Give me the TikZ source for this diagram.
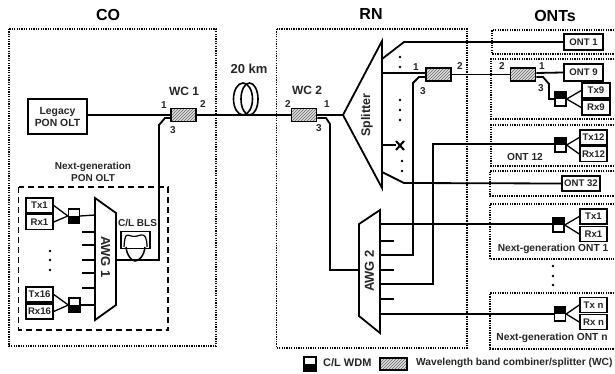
\documentclass[tikz,border=0pt]{standalone}
\usepackage{fontspec}
\setmainfont{Liberation Sans}
\usetikzlibrary{patterns}
\tikzset{
  x=1pt,y=-1pt,
  ln/.style={line width=1.8pt,line join=miter},
  thin line/.style={line width=1.3pt},
  dotbox/.style={line width=1.3pt,dash pattern=on 1.3pt off 1.1pt},
  dashbox/.style={line width=1.7pt,dash pattern=on 6pt off 4pt},
  boxn/.style={draw,line width=1.5pt,fill=white,inner sep=0pt,font=\fontsize{9.6}{11}\selectfont\bfseries,text=black!85},
  wc/.style={draw,line width=1.7pt,minimum width=25pt,minimum height=13pt,inner sep=0pt,preaction={fill=black!12},pattern=north east lines,pattern color=black!60},
  wdmb/.style={draw,line width=1.3pt,fill=white,minimum width=11pt,minimum height=14pt,inner sep=0pt,
    path picture={\fill[black] (path picture bounding box.west) rectangle (path picture bounding box.south east);}},
  wdmt/.style={draw,line width=1.3pt,fill=white,minimum width=11pt,minimum height=14pt,inner sep=0pt,
    path picture={\fill[black] (path picture bounding box.north west) rectangle (path picture bounding box.east);}},
  lab/.style={font=\fontsize{10.2}{12}\selectfont\bfseries,inner sep=0pt,text=black!85,align=center},
  plab/.style={font=\fontsize{10}{10}\selectfont\bfseries,inner sep=0pt,text=black!85},
  title/.style={font=\fontsize{16}{17}\selectfont\bfseries,inner sep=0pt},
  wlab/.style={font=\fontsize{12}{13}\selectfont\bfseries,inner sep=0pt,text=black!85},
  blab/.style={font=\fontsize{13}{14}\selectfont\bfseries,inner sep=0pt,text=black!85},
  vdot/.style={circle,fill=black,inner sep=0pt,minimum size=2.8pt},
}
\begin{document}
\begin{tikzpicture}
\useasboundingbox (0,0) rectangle (615,374);
% region frames
\draw[dotbox] (9,29) rectangle (216,346);
\draw[dotbox] (276.5,29) rectangle (467,348);
\draw[dotbox] (614,30) -- (492,30) -- (492,54) -- (614,54);
\draw[dotbox] (614,59) -- (491,59) -- (491,119) -- (614,119);
\draw[dotbox] (614,125) -- (491,125) -- (491,166) -- (614,166);
\draw[dotbox] (614,171) -- (490,171) -- (490,196) -- (614,196);
\draw[dotbox] (614,204) -- (490,204) -- (490,259) -- (614,259);
\draw[dotbox] (614,293) -- (490,293) -- (490,349) -- (614,349);
\draw[dashbox] (18.5,187) rectangle (168,330);
% titles
\node[title] (tco) at (108,15) {CO};
\node[title] (trn) at (371,14) {RN};
\node[title] (tont) at (555,16) {ONTs};
% CO
\node[boxn,minimum width=59pt,minimum height=35pt,align=center,font=\fontsize{10.4}{12}\selectfont\bfseries] (legacy) at (57.5,116.5) {Legacy\\PON OLT};
\node[wc] (wc1) at (183.5,115) {};
\node[wc] (wc2) at (304,115) {};
\node[wlab] (lwc1) at (184,91) {WC 1};
\node[plab] at (164,105) {1};
\node[plab] at (203,104) {2};
\node[plab] at (173,130) {3};
\node[blab] (lkm) at (249,69) {20 km};
\draw[ln] (legacy.east |- wc1.west) -- (wc1.west);
\coordinate (split) at (343,115);
\draw[ln] (wc1.east) -- (wc2.west);
\draw[line width=1.6pt] (243,99) ellipse [x radius=9.5,y radius=16];
\draw[line width=1.6pt] (249.5,99) ellipse [x radius=8.5,y radius=16];
\draw[ln] (wc2.east) -- (split);
\node[lab,font=\fontsize{10}{12.5}\selectfont\bfseries] (ngolt) at (93,172) {Next-generation\\PON OLT};
% AWG 1
\draw[ln,fill=white] (95,198) -- (116,213) -- (116,305) -- (95,320) -- cycle;
\coordinate (awg1r) at (116,260);
\node[blab,rotate=-90] (awg1) at (105.5,257) {AWG 1};
\draw[ln] (awg1r) -- (159,260) -- (159,125) -- (165,118) -- (171,118);
\foreach \y in {232,245,260,273,288} \draw[thin line] (82,\y) -- (95,\y);
\node[boxn,minimum width=27pt,minimum height=15pt] (tx1) at (39.5,205.5) {Tx1};
\node[boxn,minimum width=27pt,minimum height=15pt] (rx1) at (39.5,222) {Rx1};
\node[wdmb] (w1) at (74,216) {};
\draw[thin line] (tx1.east) -- (w1.west);
\draw[thin line] (rx1.east) -- (w1.west);
\draw[thin line] (w1.east) -- (95,215);
\node[boxn,minimum width=27pt,minimum height=15pt] (tx16) at (39.5,294.5) {Tx16};
\node[boxn,minimum width=27pt,minimum height=15pt] (rx16) at (39.5,311.5) {Rx16};
\node[wdmb] (w16) at (74.5,305) {};
\draw[thin line] (tx16.east) -- (w16.west);
\draw[thin line] (rx16.east) -- (w16.west);
\draw[thin line] (w16.east) -- (95,305);
\node[vdot] at (50,251) {}; \node[vdot] at (50,260) {}; \node[vdot] at (50,270) {};
% BLS
\node[lab,font=\fontsize{10}{12}\selectfont\bfseries] (lbls) at (137.5,222.5) {C/L BLS};
\node[draw,line width=1.7pt,minimum width=29pt,minimum height=17pt,inner sep=0pt] (bls) at (135.5,240) {};
\draw[line width=1.2pt] (124,247) .. controls (125,232) and (127,235) .. (131,236) .. controls (135,237) and (137,236) .. (141,235) .. controls (145,234) and (147,238) .. (147,247);
\draw[line width=1.5pt] (126,247) .. controls (127,256) and (132,261) .. (135,261) .. controls (139,261) and (144,256) .. (145,247);
% RN splitter
\draw[ln,fill=white] (split) -- (382,41) -- (382,188) -- cycle;
\node[wlab,font=\fontsize{12.5}{13}\selectfont\bfseries,rotate=90] (splt) at (367,115) {Splitter};
\node[wlab] (lwc2) at (307,90) {WC 2};
\node[plab] at (288,104) {2};
\node[plab] at (327,104) {1};
\node[plab] at (319,128) {3};
% AWG 2
\draw[ln,fill=white] (359,224) -- (380,210) -- (380,333) -- (359,316) -- cycle;
\node[blab,rotate=90] (awg2) at (369.5,271) {AWG 2};
\coordinate (awg2l) at (359,270);
\draw[ln] (wc2.east |- 0,118) -- (326,118) -- (330,124) -- (330,270) -- (awg2l);
\foreach \y in {241,270,299} \draw[ln] (380,\y) -- (394,\y);
% ONT 1, 32
\node[boxn,minimum width=39pt,minimum height=16pt] (ont1) at (583.5,42) {ONT 1};
\node[boxn,minimum width=38pt,minimum height=15pt] (ont32) at (581,183.5) {ONT 32};
\draw[ln] (382,59) -- (404,42) -- (ont1.west);
\draw[ln] (382,172) -- (404,183) -- (ont32.west);
% WC pair
\node[wc] (wc3) at (438.5,74.5) {};
\node[wc] (wc4) at (523,74.5) {};
\node[boxn,minimum width=39pt,minimum height=17pt] (ont9) at (583.5,72.5) {ONT 9};
\draw[ln] (382,73) -- (wc3.west |- 0,73);
\draw[ln] (wc3.east) -- (wc4.west);
\draw[ln] (wc4.east |- 0,73) -- (ont9.west);
\node[plab] at (416,67) {1};
\node[plab] at (460,66) {2};
\node[plab] at (423,91) {3};
\node[plab] at (502,66) {2};
\node[plab] at (542,66) {1};
\node[plab] at (541,88) {3};
% ONT 9 transceiver
\node[wdmt] (w9) at (560.5,99) {};
\node[boxn,minimum width=28pt,minimum height=15pt] (tx9) at (596,90.5) {Tx9};
\node[boxn,minimum width=28pt,minimum height=15pt] (rx9) at (596,107.5) {Rx9};
\draw[ln] (wc4.east |- 0,77) -- (543,77) -- (549,84) -- (549,99) -- (w9.west);
\draw[thin line] (w9.east) -- (tx9.west);
\draw[thin line] (w9.east) -- (rx9.west);
% ONT 12
\node[wdmt] (w12) at (560.5,145) {};
\node[boxn,minimum width=27pt,minimum height=15pt] (tx12) at (593.5,137.5) {Tx12};
\node[boxn,minimum width=27pt,minimum height=15pt] (rx12) at (593.5,154) {Rx12};
\draw[thin line] (w12.east) -- (tx12.west);
\draw[thin line] (w12.east) -- (rx12.west);
\node[lab] (lo12) at (525,157) {ONT 12};
% NG ONT 1
\node[wdmt] (wn1) at (558.5,225) {};
\node[boxn,minimum width=27pt,minimum height=15pt] (txa) at (593.5,216.5) {Tx1};
\node[boxn,minimum width=27pt,minimum height=15pt] (rxa) at (593.5,234) {Rx1};
\draw[thin line] (wn1.east) -- (txa.west);
\draw[thin line] (wn1.east) -- (rxa.west);
\node[lab] (lnga) at (553,249) {Next-generation ONT 1};
% NG ONT n
\node[wdmt] (wnn) at (560,314) {};
\node[boxn,minimum width=27pt,minimum height=15pt] (txn) at (593.5,305) {Tx n};
\node[boxn,minimum width=27pt,minimum height=15pt] (rxn) at (593.5,322) {Rx n};
\draw[thin line] (wnn.east) -- (txn.west);
\draw[thin line] (wnn.east) -- (rxn.west);
\node[lab] (lngn) at (552,338) {Next-generation ONT n};
% AWG 2 feeders
\draw[ln] (380,224) -- (wn1.west |- 0,224);
\draw[ln] (380,314) -- (wnn.west);
\draw[ln] (380,255) -- (413,255) -- (413,83) -- (419,77) -- (wc3.west |- 0,77);
\draw[ln] (380,284) -- (433,284) -- (433,144) -- (w12.west |- 0,144);
% splitter marks
\draw[ln] (382,145) -- (396,145);
\draw[line width=2pt] (396,141) -- (404,150) (404,141) -- (396,150);
\foreach \p/\q in {400/57,400/67,400/100,400/110,400/120,402/161,402/171} \node[vdot] at (\p,\q) {};
\foreach \q in {266,276,285} \node[vdot] at (553,\q) {};
% legend
\node[wdmb,minimum width=12pt,minimum height=14pt] (lw) at (310,364) {};
\node[lab,anchor=west,font=\fontsize{11}{12}\selectfont\bfseries] (lwt) at (323,362.5) {C/L WDM};
\node[wc,minimum width=27pt,minimum height=12pt] (lh) at (393.5,364) {};
\node[lab,anchor=west,font=\fontsize{10.2}{12}\selectfont\bfseries] (lht) at (416,363) {Wavelength band combiner/splitter (WC)};
\end{tikzpicture}
\end{document}
